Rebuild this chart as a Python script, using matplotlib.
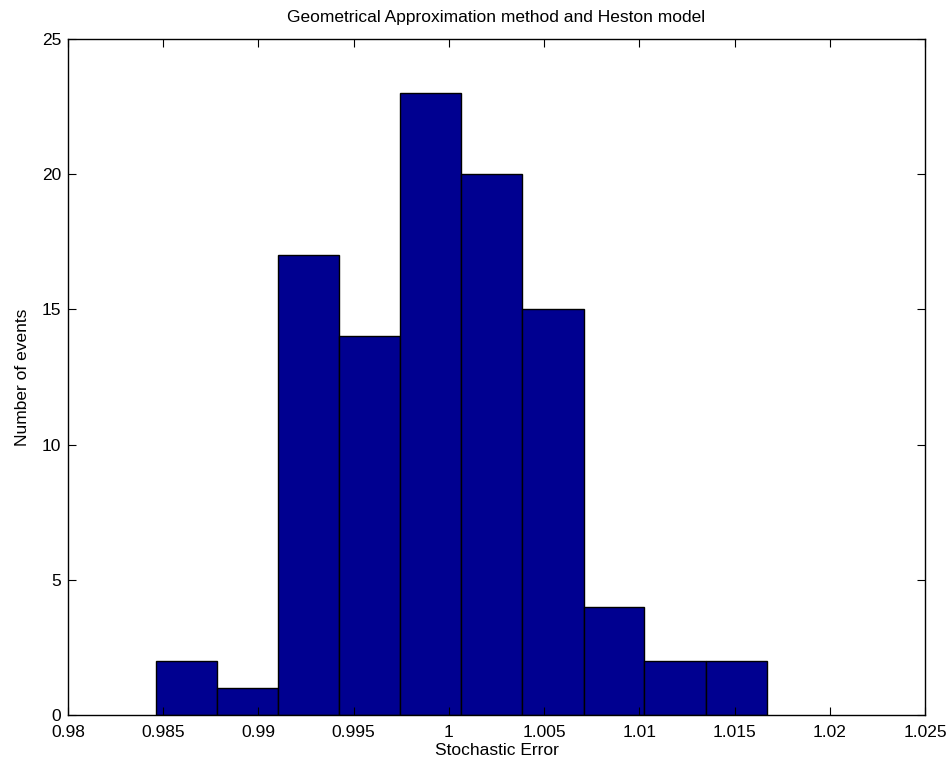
import matplotlib
matplotlib.use("Agg")
import matplotlib.pyplot as plt
import numpy as np

plt.rcParams['font.family'] = ['Liberation Sans', 'DejaVu Sans']

bin_edges = [0.98461, 0.98782, 0.99102, 0.99423, 0.99744, 1.00065,
             1.00386, 1.00707, 1.01027, 1.01348, 1.01669]
counts = [2, 1, 17, 14, 23, 20, 15, 4, 2, 2]
x_ticks = [0.98, 0.985, 0.99, 0.995, 1.0, 1.005, 1.01, 1.015, 1.02, 1.025]
x_tick_labels = ["0.98", "0.985", "0.99", "0.995", "1", "1.005", "1.01", "1.015", "1.02", "1.025"]
y_ticks = [0, 5, 10, 15, 20, 25]

fig = plt.figure(figsize=(9.53, 7.69), dpi=100)
ax = fig.add_axes([68/953, 54/769, (925-68)/953, (715-39)/769])

edges = np.array(bin_edges)
ax.bar(edges[:-1], counts, width=np.diff(edges), align='edge',
       color='#000090', edgecolor='black', linewidth=1.0)

ax.set_xlim(0.98, 1.025)
ax.set_ylim(0, 25)
ax.set_xticks(x_ticks)
ax.set_xticklabels(x_tick_labels)
ax.set_yticks(y_ticks)
ax.tick_params(direction='in', top=True, right=True, labelsize=12.5, length=6, width=0.8)
ax.tick_params(axis='x', pad=7)
ax.tick_params(axis='y', pad=5)
for s in ax.spines.values():
    s.set_linewidth(1.0)

ax.set_title('Geometrical Approximation method and Heston model', fontsize=12.5, pad=12)
ax.set_xlabel('Stochastic Error', fontsize=12.5, labelpad=2.5)
ax.set_ylabel('Number of events', fontsize=12.5, labelpad=8)

fig.savefig('out.png', dpi=100)
